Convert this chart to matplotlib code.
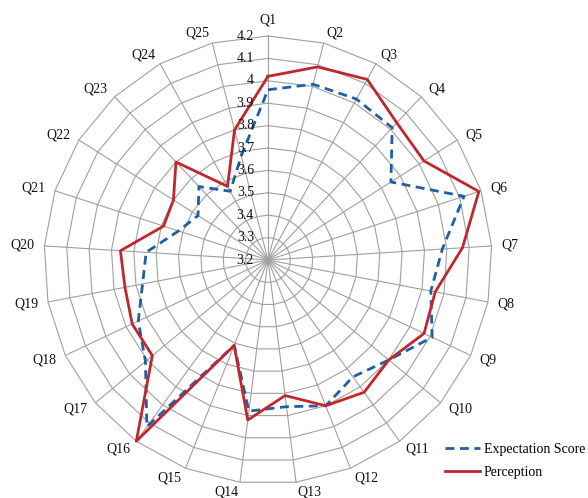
import numpy as np
import matplotlib
matplotlib.use("Agg")
import matplotlib.pyplot as plt
from matplotlib.lines import Line2D
import matplotlib.transforms as mtransforms

categories = ["Q%d" % i for i in range(1, 26)]
expectation = [3.96, 4.01, 4.02, 4.01, 3.85, 4.12, 3.98, 3.94, 4.01, 3.90,
               3.845, 3.90, 3.86, 3.88, 3.61, 4.12, 3.91, 3.84, 3.77, 3.745,
               3.62, 3.57, 3.65, 3.55, 3.68]
perception = [4.02, 4.09, 4.12, 4.04, 4.025, 4.19, 4.07, 3.96, 3.97, 3.90,
              3.93, 3.90, 3.81, 3.92, 3.61, 4.20, 3.87, 3.87, 3.85, 3.86,
              3.69, 3.70, 3.80, 3.575, 3.80]
rticks = [3.2, 3.3, 3.4, 3.5, 3.6, 3.7, 3.8, 3.9, 4.0, 4.1, 4.2]
rtick_labels = ["3.2", "3.3", "3.4", "3.5", "3.6", "3.7", "3.8", "3.9", "4", "4.1", "4.2"]

serif = "Liberation Serif"
grid_col = "#a0a0a0"
blue = "#1f5fa6"
red = "#c0272d"

fig = plt.figure(figsize=(5.88, 4.98), dpi=100)
ax = fig.add_axes([0.0748, 0.0281, 0.7619, 0.8996], projection="polar")
ax.set_theta_offset(np.pi / 2)
ax.set_theta_direction(-1)

n = len(categories)
angles = np.arange(n) * 2 * np.pi / n
ang_c = np.append(angles, angles[0])

ax.set_ylim(3.2, 4.2)
ax.set_yticks(rticks)
ax.set_yticklabels([])
ax.set_xticks(angles)
ax.set_xticklabels([])
ax.yaxis.grid(False)
ax.xaxis.grid(True, color=grid_col, linewidth=0.8)
ax.spines["polar"].set_visible(False)

# polygonal rings
for r in rticks[1:]:
    ax.plot(ang_c, [r] * (n + 1), color=grid_col, linewidth=0.8, zorder=1, clip_on=False)

ax.plot(ang_c, np.append(expectation, expectation[0]), color=blue,
        linewidth=2.0, linestyle=(0, (3.2, 2.0)), zorder=3, clip_on=False)
ax.plot(ang_c, np.append(perception, perception[0]), color=red,
        linewidth=2.0, zorder=4, clip_on=False)

# radial labels
off = mtransforms.offset_copy(ax.transData, fig=fig, x=-14, y=0, units="dots")
for r, lab in zip(rticks, rtick_labels):
    ax.text(0, r, lab, transform=off, ha="right", va="center",
            fontfamily=serif, fontsize=10, color="#111111", zorder=5)

# category labels (Excel-like placement)
for a, lab in zip(angles, categories):
    s, c = np.sin(a), np.cos(a)
    dx, dy = 10 * s, 10 * c
    if abs(s) < 0.1 and c > 0:
        dy = 16
    tr = mtransforms.offset_copy(ax.transData, fig=fig, x=dx, y=dy, units="dots")
    ha = "left" if s > 0.1 else ("right" if s < -0.1 else "center")
    ax.text(a, 4.2, lab, transform=tr, ha=ha, va="center", fontfamily=serif,
            fontsize=10, color="#111111", clip_on=False)

handles = [Line2D([0], [0], color=blue, linewidth=2.0, linestyle=(0, (3.2, 2.0))),
           Line2D([0], [0], color=red, linewidth=2.0)]
fig.legend(handles, ["Expectation Score", "Perception"], loc="upper left",
           bbox_to_anchor=(0.757, 0.111), frameon=False, borderpad=0,
           borderaxespad=0, handlelength=2.5, handletextpad=0.3,
           labelspacing=0.75, prop={"family": serif, "size": 10})

fig.savefig("out.png", dpi=100)
